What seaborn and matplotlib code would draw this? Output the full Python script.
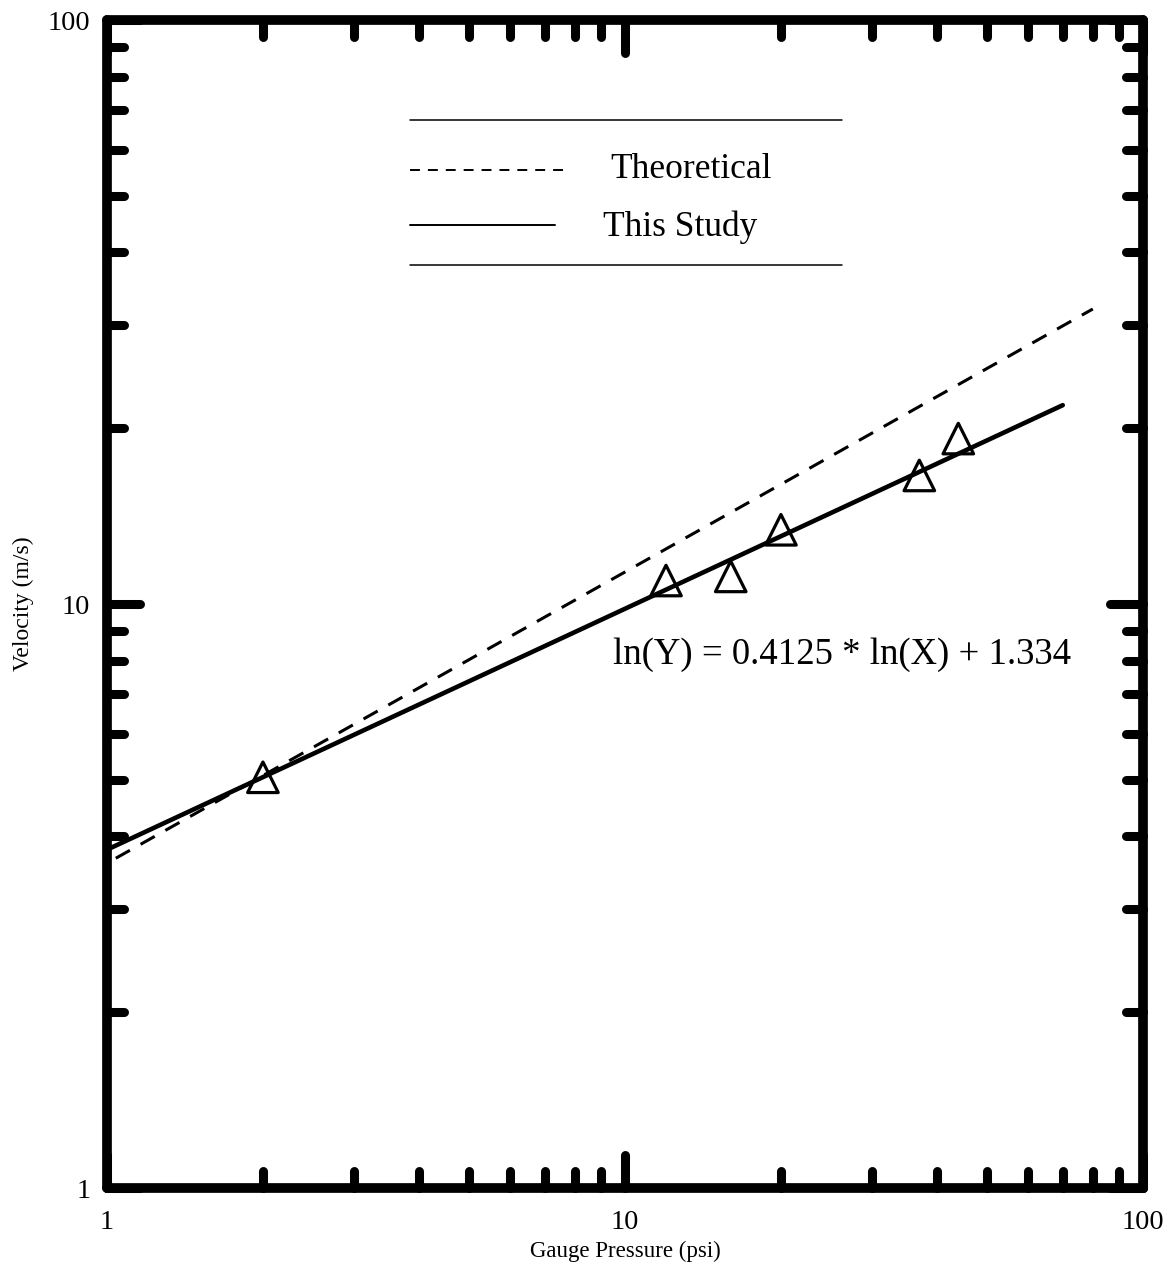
import numpy as np
import pandas as pd
import matplotlib
matplotlib.use("Agg")
import matplotlib.pyplot as plt
from matplotlib.markers import MarkerStyle
from matplotlib.lines import Line2D
from matplotlib.ticker import LogLocator, NullFormatter, FixedLocator, FixedFormatter
import seaborn as sns

# Measured jet velocity vs gauge pressure
pressure_psi = [2.0, 12.0, 16.0, 20.0, 37.0, 44.0]
velocity_ms = [5.05, 10.97, 11.15, 13.4, 16.6, 19.2]

# Power-law fit of the measurements: ln(Y) = a * ln(X) + b
fit_slope = 0.4125
fit_intercept = 1.334
fit_x_range = [1.0, 70.0]

# Theoretical curve endpoints
theory_x = [1.04, 80.0]
theory_y = [3.67, 32.0]

fit_df = pd.DataFrame({
    "x": fit_x_range,
    "y": np.exp(fit_slope * np.log(fit_x_range) + fit_intercept),
})
theory_df = pd.DataFrame({"x": theory_x, "y": theory_y})
meas_df = pd.DataFrame({"x": pressure_psi, "y": velocity_ms})

sns.set_style("ticks")
plt.rcParams["font.family"] = ["Liberation Serif", "DejaVu Serif"]
plt.rcParams["text.color"] = "black"
plt.rcParams["axes.labelcolor"] = "black"

fig = plt.figure(figsize=(11.71, 12.70), dpi=100)
ax = fig.add_axes([107 / 1171, 1 - 1188 / 1270, 1036 / 1171, 1168 / 1270])
ax.set_xscale("log")
ax.set_yscale("log")
ax.set_xlim(1, 100)
ax.set_ylim(1, 100)

sns.lineplot(data=theory_df, x="x", y="y", ax=ax, color="black",
             linewidth=2.2, dashes=False, linestyle=(0, (5.3, 4)))
sns.lineplot(data=fit_df, x="x", y="y", ax=ax, color="black", linewidth=3.3)
sns.scatterplot(data=meas_df, x="x", y="y", ax=ax, marker="^", s=22 ** 2,
                facecolors="none", edgecolors="black", linewidth=2.3, zorder=5)

# Frame
for sp in ax.spines.values():
    sp.set_linewidth(7.0)
    sp.set_color("black")
    sp.set_capstyle("round")
    sp.set_joinstyle("round")

# Ticks: decade labels only, minor ticks at 2..9
ax.xaxis.set_major_locator(FixedLocator([1, 10, 100]))
ax.xaxis.set_major_formatter(FixedFormatter(["1", "10", "100"]))
ax.yaxis.set_major_locator(FixedLocator([1, 10, 100]))
ax.yaxis.set_major_formatter(FixedFormatter(["1", "10", "100"]))
ax.xaxis.set_minor_locator(LogLocator(base=10, subs=np.arange(2, 10)))
ax.yaxis.set_minor_locator(LogLocator(base=10, subs=np.arange(2, 10)))
ax.xaxis.set_minor_formatter(NullFormatter())
ax.yaxis.set_minor_formatter(NullFormatter())
ax.tick_params(which="both", direction="in", top=True, right=True,
               color="black", width=6.5, labelsize=20.5, labelcolor="black")
ax.tick_params(which="major", length=24)
ax.tick_params(which="minor", length=12)
ax.tick_params(axis="x", which="major", pad=16)
ax.tick_params(axis="y", which="major", pad=12)

for axis in (ax.xaxis, ax.yaxis):
    for minor in (False, True):
        for tl in axis.get_ticklines(minor=minor):
            tl.set_marker(MarkerStyle(tl.get_marker(), capstyle="round"))

ax.set_xlabel("Gauge Pressure (psi)", fontsize=16.5, labelpad=4)
ax.set_ylabel("Velocity (m/s)", fontsize=17, labelpad=10)

# Key drawn between two rules
tr = ax.transAxes
ax.add_line(Line2D([0.2925, 0.7095], [0.9144, 0.9144], transform=tr, color="black", lw=1.1))
ax.add_line(Line2D([0.2925, 0.7095], [0.7902, 0.7902], transform=tr, color="black", lw=1.1))
ax.add_line(Line2D([0.2925, 0.4469], [0.8716, 0.8716], transform=tr, color="black",
                   lw=1.4, linestyle=(0, (5.1, 4.1))))
ax.add_line(Line2D([0.2925, 0.4324], [0.8245, 0.8245], transform=tr, color="black", lw=1.4))
ax.text(0.4855, 0.8716, "Theoretical", transform=tr, fontsize=25.5, va="center", ha="left")
ax.text(0.4788, 0.8225, "This Study", transform=tr, fontsize=25.5, va="center", ha="left")

ax.text(0.4884, 0.4563, "ln(Y) = 0.4125 * ln(X) + 1.334", transform=tr,
        fontsize=26.5, va="center", ha="left")

fig.savefig("out.png", dpi=100)
